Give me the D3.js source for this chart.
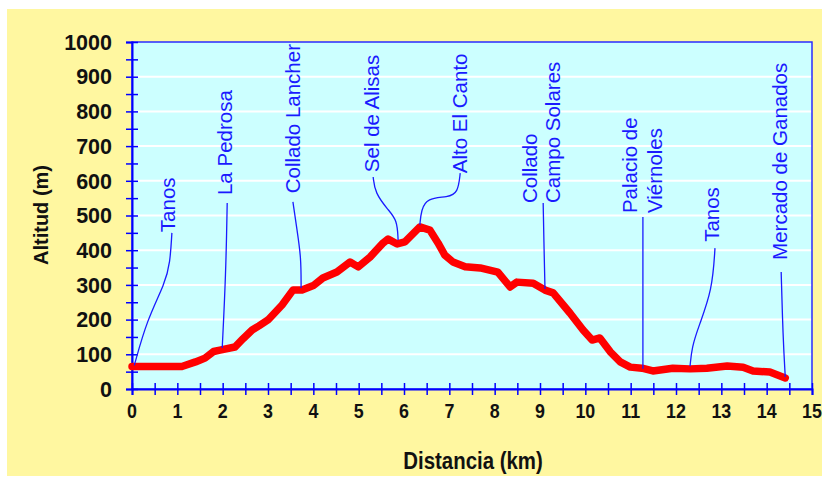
<!DOCTYPE html>
<html>
<head>
<meta charset="utf-8">
<script src="https://cdn.jsdelivr.net/npm/d3@7"></script>
<style>
  body { margin: 0; background: #ffffff; }
</style>
</head>
<body>
<svg id="chart"></svg>
<script>
// chart data
const distKm = [0, 0.5, 1.1, 1.4, 1.61, 1.8, 1.94, 2.27, 2.45, 2.65, 2.8, 3.0, 3.31, 3.55, 3.75, 4.0, 4.21, 4.52, 4.81, 4.99, 5.25, 5.54, 5.65, 5.85, 6.02, 6.35, 6.57, 6.75, 6.9, 7.08, 7.35, 7.68, 8.07, 8.34, 8.49, 8.85, 9.11, 9.29, 9.66, 9.95, 10.15, 10.32, 10.55, 10.77, 10.99, 11.25, 11.49, 11.93, 12.31, 12.68, 13.13, 13.48, 13.7, 14.07, 14.41];
const altM = [65, 65, 65, 78, 89, 108, 112, 121, 145, 170, 182, 199, 242, 285, 285, 298, 320, 337, 366, 352, 380, 421, 432, 418, 424, 467, 458, 421, 386, 366, 352, 349, 337, 294, 308, 305, 285, 277, 219, 170, 141, 147, 107, 78, 63, 60, 52, 60, 58, 60, 66, 63, 52, 49, 32];

const xTicks = d3.range(0, 16, 1);
const yTicks = d3.range(0, 1001, 100);

// place names: text lines, label x (km) per line, label bottom (m), leader path (km, m)
const places = [
  { lines: ["Tanos"], lx: [0.79], ly: 452, leader: [[0.88, 450], [0.84, 363], [0.73, 305], [0.33, 199], [0.05, 68]] },
  { lines: ["La Pedrosa"], lx: [2.05], ly: 559, leader: [[2.1, 536], [2.07, 330], [1.99, 118]] },
  { lines: ["Collado Lancher"], lx: [3.55], ly: 564, leader: [[3.55, 539], [3.64, 458], [3.73, 380], [3.73, 291]] },
  { lines: ["Sel de Alisas"], lx: [5.29], ly: 625, leader: [[5.32, 611], [5.36, 565], [5.65, 516], [5.85, 487], [5.87, 429]] },
  { lines: ["Alto El Canto"], lx: [7.24], ly: 622, leader: [[7.24, 622], [7.19, 565], [6.97, 553], [6.51, 550], [6.38, 516], [6.35, 473]] },
  { lines: ["Collado", "Campo Solares"], lx: [8.78, 9.29], ly: 536, leader: [[9.07, 536], [9.09, 400], [9.11, 288]] },
  { lines: ["Palacio de", "Viérnoles"], lx: [10.99, 11.54], ly: 507, leader: [[11.27, 496], [11.27, 250], [11.27, 58]] },
  { lines: ["Tanos"], lx: [12.8], ly: 424, leader: [[12.86, 406], [12.8, 285], [12.5, 180], [12.35, 121], [12.31, 66]] },
  { lines: ["Mercado de Ganados"], lx: [14.3], ly: 372, leader: [[14.32, 337], [14.36, 150], [14.41, 35]] }
];

const width = 827, height = 481;
const svg = d3.select("#chart")
  .attr("width", width)
  .attr("height", height);

// yellow chart background
svg.append("rect")
  .attr("x", 7).attr("y", 9)
  .attr("width", 815).attr("height", 467)
  .attr("fill", "#fff7a0");

const x = d3.scaleLinear().domain([0, 15]).range([132, 812]);
const y = d3.scaleLinear().domain([0, 1000]).range([389, 42]);

// plot area
svg.append("rect")
  .attr("x", x(0)).attr("y", y(1000))
  .attr("width", x(15) - x(0)).attr("height", y(0) - y(1000))
  .attr("fill", "#ccffff");

svg.append("clipPath").attr("id", "plotClip")
  .append("rect")
  .attr("x", x(0)).attr("y", y(1000))
  .attr("width", x(15) - x(0)).attr("height", y(0) - y(1000));

// white gridlines
svg.append("g")
  .selectAll("line")
  .data(yTicks.slice(1, -1))
  .enter()
  .append("line")
  .attr("x1", x(0)).attr("x2", x(15))
  .attr("y1", d => y(d)).attr("y2", d => y(d))
  .attr("stroke", "#ffffff")
  .attr("stroke-width", 2);

// border of plot
svg.append("rect")
  .attr("x", x(0)).attr("y", y(1000))
  .attr("width", x(15) - x(0)).attr("height", y(0) - y(1000))
  .attr("fill", "none")
  .attr("stroke", "#2b2bff")
  .attr("stroke-width", 1.5);

// y axis with crossing ticks every 50 m
const yAxis = svg.append("g")
  .attr("transform", `translate(${x(0)},0)`)
  .call(d3.axisLeft(y).tickValues(d3.range(0, 1001, 50)).tickSize(6).tickFormat(""));
yAxis.select(".domain").attr("stroke", "#0000ff").attr("stroke-width", 2);
yAxis.selectAll(".tick line").attr("stroke", "#0000ff").attr("stroke-width", 1.5).attr("x2", 6).attr("x1", -6);

yAxis.selectAll(".ylab")
  .data(yTicks)
  .enter()
  .append("text")
  .attr("x", -20)
  .attr("y", d => y(d))
  .attr("dy", "0.36em")
  .attr("text-anchor", "end")
  .attr("font-family", "Liberation Sans, Arial, sans-serif")
  .attr("font-weight", "bold")
  .attr("font-size", 21.5)
  .attr("fill", "#111")
  .text(d => d);

// x axis with crossing ticks every 0.5 km
const xAxis = svg.append("g")
  .attr("transform", `translate(0,${y(0)})`)
  .call(d3.axisBottom(x).tickValues(d3.range(0, 15.01, 0.5)).tickSize(6).tickFormat(""));
xAxis.select(".domain").attr("stroke", "#0000ff").attr("stroke-width", 2);
xAxis.selectAll(".tick line").attr("stroke", "#0000ff").attr("stroke-width", 1.5).attr("y1", -6).attr("y2", 6);

xAxis.selectAll(".xlab")
  .data(xTicks)
  .enter()
  .append("text")
  .attr("transform", d => `translate(${x(d)},29) scale(0.85,1)`)
  .attr("text-anchor", "middle")
  .attr("font-family", "Liberation Sans, Arial, sans-serif")
  .attr("font-weight", "bold")
  .attr("font-size", 21)
  .attr("fill", "#111")
  .text(d => d);

// axis titles
svg.append("text")
  .attr("transform", "translate(48,215) rotate(-90)")
  .attr("text-anchor", "middle")
  .attr("font-family", "Liberation Sans, Arial, sans-serif")
  .attr("font-weight", "bold")
  .attr("font-size", 20)
  .attr("fill", "#111")
  .text("Altitud (m)");

svg.append("text")
  .attr("transform", "translate(473,469) scale(0.85,1)")
  .attr("text-anchor", "middle")
  .attr("font-family", "Liberation Sans, Arial, sans-serif")
  .attr("font-weight", "bold")
  .attr("font-size", 24)
  .attr("fill", "#111")
  .text("Distancia (km)");

// elevation profile
const line = d3.line()
  .x((d, i) => x(distKm[i]))
  .y(d => y(d));

svg.append("path")
  .datum(altM)
  .attr("d", line)
  .attr("fill", "none")
  .attr("stroke", "#ff0000")
  .attr("stroke-width", 7.5)
  .attr("stroke-linejoin", "round")
  .attr("stroke-linecap", "round");

// place labels with leader lines
const notes = svg.append("g").attr("clip-path", "url(#plotClip)");

const leader = d3.line()
  .x(d => x(d[0]))
  .y(d => y(d[1]))
  .curve(d3.curveBasis);

notes.selectAll(".leader")
  .data(places)
  .enter()
  .append("path")
  .attr("class", "leader")
  .attr("d", d => leader(d.leader))
  .attr("fill", "none")
  .attr("stroke", "#1a1aff")
  .attr("stroke-width", 1.3);

places.forEach(p => {
  p.lines.forEach((t, i) => {
    notes.append("text")
      .attr("transform", `translate(${x(p.lx[i])},${y(p.ly)}) rotate(-90)`)
      .attr("dy", "0.35em")
      .attr("text-anchor", "start")
      .attr("font-family", "Liberation Sans, Arial, sans-serif")
      .attr("font-size", 20.5)
      .attr("fill", "#1a1aff")
      .text(t);
  });
});
</script>
</body>
</html>
